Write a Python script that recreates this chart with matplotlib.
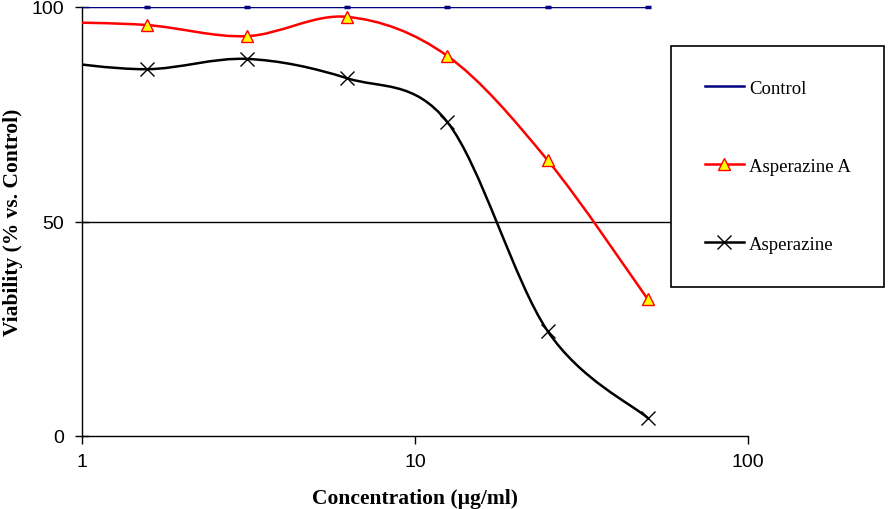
import numpy as np
import matplotlib
matplotlib.use("Agg")
import matplotlib.pyplot as plt
from matplotlib.path import Path
from matplotlib.patches import PathPatch, Rectangle
from matplotlib.lines import Line2D

# concentrations (ug/ml), two-fold dilution series
conc = [0.78125, 1.5625, 3.125, 6.25, 12.5, 25, 50]
control = [100, 100, 100, 100, 100, 100, 100]
asperazine_a = [96.5, 95.8, 93.2, 97.7, 88.6, 64.3, 31.9]
asperazine = [87.5, 85.5, 87.9, 83.4, 73.2, 24.5, 4.2]
labels = ["Control", "Asperazine A", "Asperazine"]


def smooth_path(x, y):
    """Excel-style smoothed line as cubic Bezier segments in log-x space."""
    u = np.log10(x)
    y = np.asarray(y, dtype=float)
    n = len(u)
    verts = [(x[0], y[0])]
    codes = [Path.MOVETO]
    for i in range(n - 1):
        a, b = max(i - 1, 0), min(i + 2, n - 1)
        c1u = u[i] + (u[i + 1] - u[a]) / 6
        c1y = y[i] + (y[i + 1] - y[a]) / 6
        c2u = u[i + 1] - (u[b] - u[i]) / 6
        c2y = y[i + 1] - (y[b] - y[i]) / 6
        verts += [(10 ** c1u, c1y), (10 ** c2u, c2y), (x[i + 1], y[i + 1])]
        codes += [Path.CURVE4] * 3
    return Path(verts, codes)


fig = plt.figure(figsize=(8.96, 5.1), dpi=100)
ax = fig.add_axes([82 / 896, 1 - 437 / 510, (748 - 82) / 896, (437 - 8) / 510])
ax.set_xscale("log")
ax.set_xlim(1, 100)
ax.set_ylim(0, 100)

ax.axhline(50, color="black", lw=1.0, zorder=1)

# clip markers only left/right so the ones sitting on y=100 stay whole
clip = Rectangle((0, -0.1), 1, 1.2, transform=ax.transAxes, visible=False)
ax.add_patch(clip)

series = [
    (control, "#000080", dict(marker="_", ms=5, mew=2.5, mec="#000080")),
    (asperazine_a, "#FF0000", dict(marker="^", ms=8, mfc="#FFFF00", mec="#FF0000", mew=1.0)),
    (asperazine, "black", dict(marker="x", ms=10, mec="black", mew=1.0)),
]
handles = []
for i, (vals, col, mk) in enumerate(series):
    ax.add_patch(PathPatch(smooth_path(conc, vals), fill=False, ec=col, lw=1.8, zorder=3))
    pts, = ax.plot(conc, vals, ls="none", zorder=4, **mk)
    pts.set_clip_path(clip)
    if i == 0:
        handles.append(Line2D([], [], color=col, lw=1.8))
    else:
        handles.append(Line2D([], [], color=col, lw=1.8, **mk))

for s in ["top", "right"]:
    ax.spines[s].set_visible(False)
for s in ["left", "bottom"]:
    ax.spines[s].set_linewidth(1.0)

ax.set_yticks([0, 50, 100])
ax.set_xticks([1, 10, 100])
ax.set_xticklabels(["1", "10", "100"])
ax.minorticks_off()
ax.tick_params(axis="y", direction="inout", length=10, width=1.0, pad=8)
ax.tick_params(axis="x", direction="out", length=6, width=1.0, pad=6)
for t in ax.get_xticklabels() + ax.get_yticklabels():
    t.set_fontfamily("Liberation Sans")
    t.set_fontsize(14)

ax.set_xlabel("Concentration (µg/ml)", fontfamily="Liberation Serif",
              fontweight="bold", fontsize=15.5, labelpad=13)
ax.set_ylabel("Viability (% vs. Control)", fontfamily="Liberation Serif",
              fontweight="bold", fontsize=15.5, labelpad=6)

leg = fig.legend(handles, labels, loc="upper left",
                 bbox_to_anchor=(671 / 896, 1 - 47 / 510), borderaxespad=0,
                 prop={"family": "Liberation Serif", "size": 13.5},
                 labelspacing=3.25, borderpad=1.8, handlelength=2.1,
                 handletextpad=0.25, fancybox=False, framealpha=1)
leg.get_frame().set_edgecolor("black")
leg.get_frame().set_linewidth(1.2)

fig.savefig("out.png", dpi=100)
